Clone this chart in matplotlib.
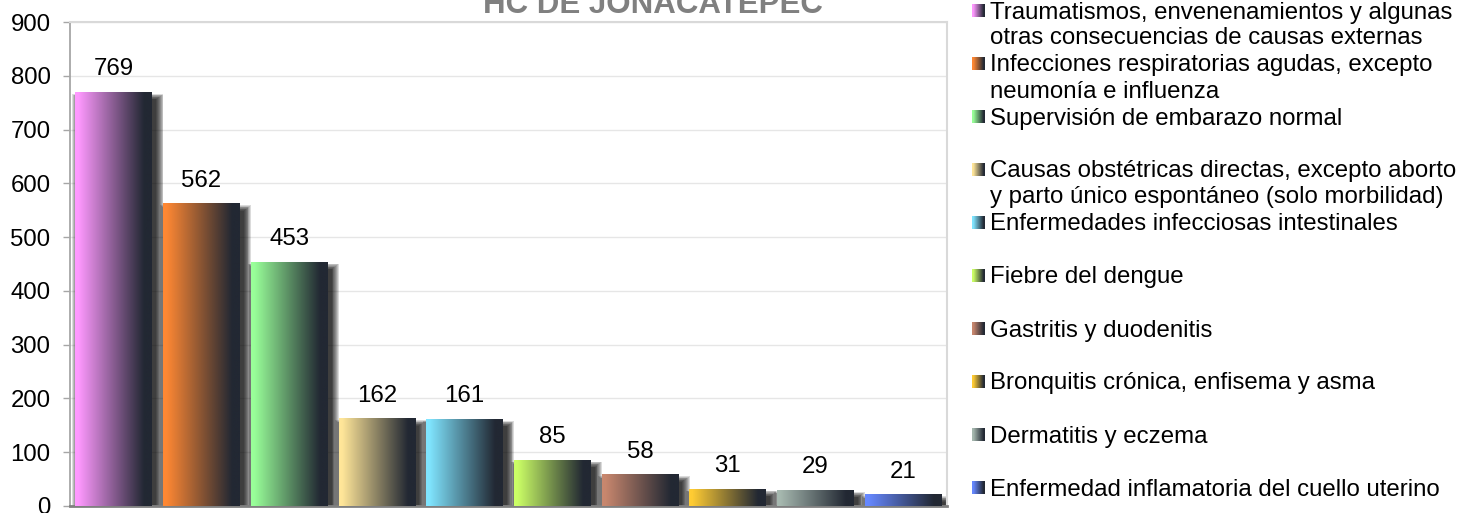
import numpy as np
import matplotlib
matplotlib.use('Agg')
import matplotlib.pyplot as plt
from matplotlib.colors import LinearSegmentedColormap
from matplotlib.patches import Rectangle

# ---------------- data ----------------
title = 'HC DE JONACATEPEC'
categories = [
    'Traumatismos, envenenamientos y algunas\notras consecuencias de causas externas',
    'Infecciones respiratorias agudas, excepto\nneumonía e influenza',
    'Supervisión de embarazo normal',
    'Causas obstétricas directas, excepto aborto\ny parto único espontáneo (solo morbilidad)',
    'Enfermedades infecciosas intestinales',
    'Fiebre del dengue',
    'Gastritis y duodenitis',
    'Bronquitis crónica, enfisema y asma',
    'Dermatitis y eczema',
    'Enfermedad inflamatoria del cuello uterino',
]
values = [769, 562, 453, 162, 161, 85, 58, 31, 29, 21]
colors = ['#FF99FF', '#FF8833', '#99FF99', '#FFE699', '#80E5FF',
          '#CCFF66', '#C8876E', '#FFCC33', '#A6B8AF', '#6688FF']
yticks = [0, 100, 200, 300, 400, 500, 600, 700, 800, 900]
dark = '#222833'

plt.rcParams['font.family'] = ['Liberation Sans', 'DejaVu Sans']
FS = 17.3

W, H = 1470, 513
fig = plt.figure(figsize=(W / 100, H / 100), dpi=100)
fig.patch.set_facecolor('white')

ax = fig.add_axes([70 / W, 7 / H, 877 / W, 484 / H])
x = np.arange(len(values))
ax.set_xlim(-0.5, len(values) - 0.5)
ax.set_ylim(0, 900)

# pixel -> data scale
sx = (len(values)) / 877.0
sy = 900 / 484.0

grad = np.linspace(0, 1, 256).reshape(1, -1)

bars = ax.bar(x, values, width=0.875, color='none', edgecolor='none', zorder=3)
for b, c, v in zip(bars, colors, values):
    x0, w, h = b.get_x(), b.get_width(), b.get_height()
    # soft drop shadow (stacked translucent layers)
    offx, offy = 4, 7
    for k in range(0, 9):
        r = Rectangle((x0 + (offx - k * 0.9) * sx, 0), w + 2 * k * 0.9 * sx,
                      max(h - (offy - k * 0.7) * sy, 0), facecolor='black',
                      edgecolor='none', alpha=0.14, zorder=2)
        ax.add_patch(r)
    cmap = LinearSegmentedColormap.from_list(
        'g', [(0, c), (0.04, c), (0.9, dark), (1, dark)])
    ax.imshow(grad, extent=[x0, x0 + w, 0, h], aspect='auto', cmap=cmap,
              interpolation='bilinear', zorder=3)
    ax.annotate(str(v), (x0 + w / 2, h), xytext=(0, 12),
                textcoords='offset pixels', ha='center', va='bottom',
                fontsize=FS, color='black', zorder=5)

ax.set_xlim(-0.5, len(values) - 0.5)
ax.set_ylim(0, 900)
ax.set_yticks(yticks)
ax.set_xticks([])
ax.yaxis.grid(True, color='#E6E6E6', lw=1)
ax.set_axisbelow(True)
ax.tick_params(axis='y', length=5, width=1, color='#A6A6A6',
               labelsize=FS, pad=9, labelcolor='black')
ax.spines['left'].set_color('#A6A6A6')
ax.spines['left'].set_linewidth(1.3)
ax.spines['bottom'].set_color('#808080')
ax.spines['bottom'].set_linewidth(2)
for s in ('top', 'right'):
    ax.spines[s].set_color('#D9D9D9')
    ax.spines[s].set_linewidth(1.5)

# title (partly cut off at top, as in reference)
fig.text(653 / W, 1 - 13 / H, title, ha='center', va='baseline',
         fontsize=22.5, fontweight='bold', color='#808080')

# custom legend in pixel coordinates
ov = fig.add_axes([0, 0, 1, 1], zorder=10)
ov.set_xlim(0, W)
ov.set_ylim(H, 0)
ov.axis('off')
ov.patch.set_alpha(0)
for i, (lab, c) in enumerate(zip(categories, colors)):
    cy = 11 + i * 53
    cmap = LinearSegmentedColormap.from_list(
        'g', [(0, c), (0.1, c), (0.9, dark), (1, dark)])
    ov.imshow(grad, extent=[972, 985, cy + 6.5, cy - 6.5], aspect='auto',
              cmap=cmap, interpolation='bilinear')
    for j, line in enumerate(lab.split('\n')):
        ov.text(990, cy + 7.5 + j * 26, line, ha='left', va='baseline',
                fontsize=FS, color='black')
ov.set_xlim(0, W)
ov.set_ylim(H, 0)

fig.savefig('out.png', dpi=100)
